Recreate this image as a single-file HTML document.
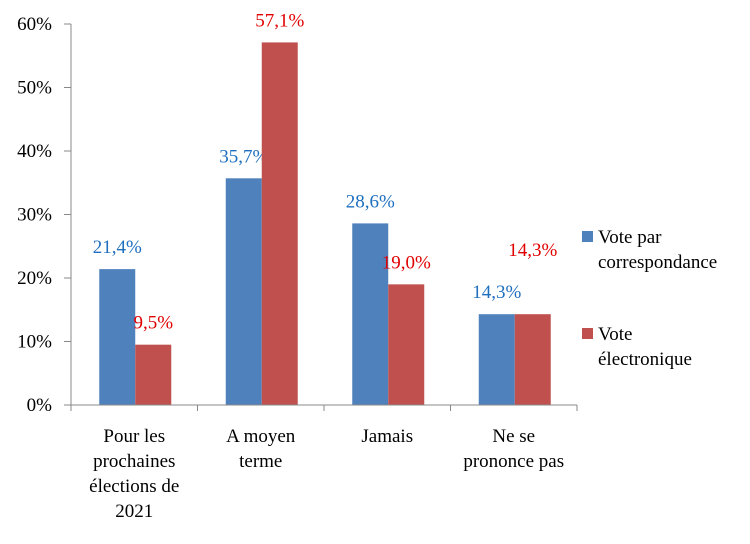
<!DOCTYPE html>
<html><head><meta charset="utf-8"><style>
body{margin:0;background:#fff}
svg{display:block;font-family:"Liberation Serif","DejaVu Serif",serif}
</style></head><body>
<svg id="c" width="750" height="544"></svg>
<script>
const categories=[["Pour les","prochaines","élections de","2021"],["A moyen","terme"],["Jamais"],["Ne se","prononce pas"]];
const seriesNames=[["Vote par","correspondance"],["Vote","électronique"]];
const voteCorrespondance=[21.4,35.7,28.6,14.3];
const voteElectronique=[9.5,57.1,19.0,14.3];
const yTicks=[0,10,20,30,40,50,60];
const colors=["#4f81bd","#c0504d"];
const labelColors=["#1f6fbf","#e00000"];
const svg=document.getElementById('c');
const NS="http://www.w3.org/2000/svg";
const x0=71,x1=577,y0=405,yTop=24;
const y=v=>y0-(v/60)*(y0-yTop);
const bw=(x1-x0)/categories.length;
const cx=i=>x0+bw*(i+0.5);
function el(t,a,txt){const e=document.createElementNS(NS,t);for(const k in a)e.setAttribute(k,a[k]);if(txt!==undefined)e.textContent=txt;svg.appendChild(e);return e;}
yTicks.forEach(t=>{
 const l=el('text',{x:52,y:y(t)+6,'text-anchor':'end','font-size':19,fill:'#000'},t+'%');
 
 
 const m=el('line',{x1:64,x2:x0,y1:y(t),y2:y(t),stroke:'#888'});
 
 
});
const all=[voteCorrespondance,voteElectronique];
all.forEach((s,si)=>{
 s.forEach((v,i)=>{
  const bx=cx(i)-36+si*36+1;
  const r=el('rect',{x:bx,y:y(v),width:36,height:y0-y(v),fill:colors[si]});
  
  
  let ly=y(v)-16;
  if(si===1 && Math.abs(v-all[0][i])<3) ly-=42;
  const t=el('text',{x:bx+18,y:ly,'text-anchor':'middle','font-size':19,fill:labelColors[si]},v.toFixed(1).replace('.',',')+'%');
  
  
 });
});
const ax=el('line',{x1:x0,x2:x0,y1:yTop,y2:y0,stroke:'#888'});


const bx=el('line',{x1:x0,x2:x1,y1:y0,y2:y0,stroke:'#888'});


for(let i=0;i<=categories.length;i++){
 const m=el('line',{x1:x0+bw*i,x2:x0+bw*i,y1:y0,y2:y0+6,stroke:'#888'});
 
 
}
categories.forEach((c,i)=>{
 c.forEach((ln,j)=>{
  const t=el('text',{x:cx(i),y:442+j*25,'text-anchor':'middle','font-size':19,fill:'#000'},ln);
  
  
 });
});
const legY=[243,340];
seriesNames.forEach((n,si)=>{
 const r=el('rect',{x:582,y:legY[si]-12,width:11,height:11,fill:colors[si]});
 
 
 n.forEach((ln,j)=>{
  const t=el('text',{x:598,y:legY[si]+j*25,'font-size':19,fill:'#000'},ln);
  
  
 });
});
</script>
</body></html>
